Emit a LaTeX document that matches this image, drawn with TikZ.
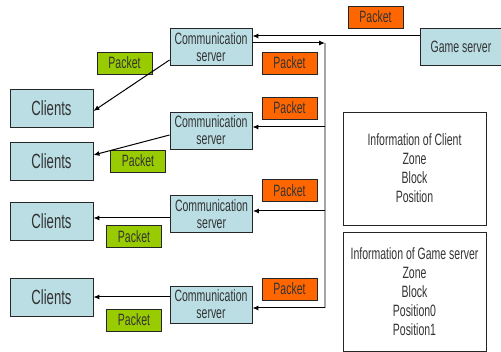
\documentclass[tikz,border=0pt]{standalone}
\usepackage{fontspec}
\setmainfont{Liberation Sans}[FakeStretch=0.64]
\usetikzlibrary{arrows.meta}
\definecolor{boxblue}{RGB}{186,222,228}
\definecolor{pktgreen}{RGB}{153,204,0}
\definecolor{pktorange}{RGB}{255,102,0}
\tikzset{
	srv/.style={draw=black!85, fill=boxblue, line width=0.9pt, minimum width=82pt, minimum height=37pt, inner sep=1pt, align=center, text=black!80, font=\fontsize{16.4}{17}\selectfont},
	client/.style={srv, minimum width=83pt, minimum height=38pt, font=\fontsize{20.5}{21}\selectfont},
	gpkt/.style={draw=black!85, fill=pktgreen, line width=0.9pt, minimum width=55pt, minimum height=22pt, inner sep=0pt, text=black!80, font=\fontsize{16.4}{17}\selectfont},
	opkt/.style={gpkt, fill=pktorange},
	infobox/.style={draw=black!85, line width=0.9pt, minimum width=143pt, align=center, text=black!80, font=\fontsize{16.4}{19}\selectfont},
	arr/.style={line width=1pt, -{Latex[length=6pt,width=5pt]}}
}
\begin{document}
\begin{tikzpicture}[x=1pt, y=-1pt]
		%%%%% START %%%%%
		\useasboundingbox (0, 0) rectangle (501, 352);
		
		% servers
		\node[srv] (gs) at (461, 47) {Game server};
		\node[srv] (c1) at (211, 47) {Communication\\server};
		\node[srv] (c2) at (211, 130.5) {Communication\\server};
		\node[srv] (c3) at (211.5, 214) {Communication\\server};
		\node[srv] (c4) at (211, 304.5) {Communication\\server};
		
		% clients
		\node[client] (cl1) at (51.5, 108.5) {Clients};
		\node[client] (cl2) at (51.5, 161) {Clients};
		\node[client] (cl3) at (51.5, 221.5) {Clients};
		\node[client] (cl4) at (51.5, 297) {Clients};
		
		% packets
		\node[opkt] (p0) at (375.5, 17) {Packet};
		\node[opkt] (p1) at (289.5, 63) {Packet};
		\node[opkt] (p2) at (289.5, 108) {Packet};
		\node[opkt] (p3) at (289.5, 190.5) {Packet};
		\node[opkt] (p4) at (289.5, 289) {Packet};
		\node[gpkt] (g1) at (124.5, 63) {Packet};
		\node[gpkt] (g2) at (138, 161) {Packet};
		\node[gpkt] (g3) at (134, 236.5) {Packet};
		\node[gpkt] (g4) at (134, 320) {Packet};
		
		% info
		\node[infobox, minimum height=113pt] (ic) at (414.5, 168.5) {Information of Client\\Zone\\Block\\Position};
		\node[infobox, minimum height=119pt] (ig) at (414.5, 291.5) {Information of Game server\\Zone\\Block\\Position0\\Position1};
		
		% bus
		\coordinate (bustop) at (325, 43);
		\coordinate (busbot) at (325, 308);
		\coordinate (b2) at (325, 127);
		\coordinate (b3) at (325, 211);
		\draw[line width=1.2pt, black!35] (bustop) -- (busbot);
		
		\draw[arr] ([yshift=11pt]gs.west) -- ([yshift=11pt]gs.west -| c1.east);
		\draw[arr] (c1.east |- bustop) -- (bustop);
		\draw[arr] (b2) -- (b2 -| c2.east);
		\draw[arr] (b3) -- (b3 -| c3.east);
		\draw[arr] (busbot) -- (busbot -| c4.east);
		
		\draw[arr] ([yshift=-13pt]c1.west) -- ([yshift=-2.5pt]cl1.east);
		\draw[arr] ([yshift=-4.5pt]c2.west) -- ([yshift=6pt]cl2.east);
		\draw[arr] ([yshift=-4pt]c3.west) -- ([yshift=-4pt]c3.west -| cl3.east);
		\draw[arr] (cl4.east -| c4.west) -- (cl4.east);
		
		%%%%% END %%%%%
	\end{tikzpicture}
\end{document}
